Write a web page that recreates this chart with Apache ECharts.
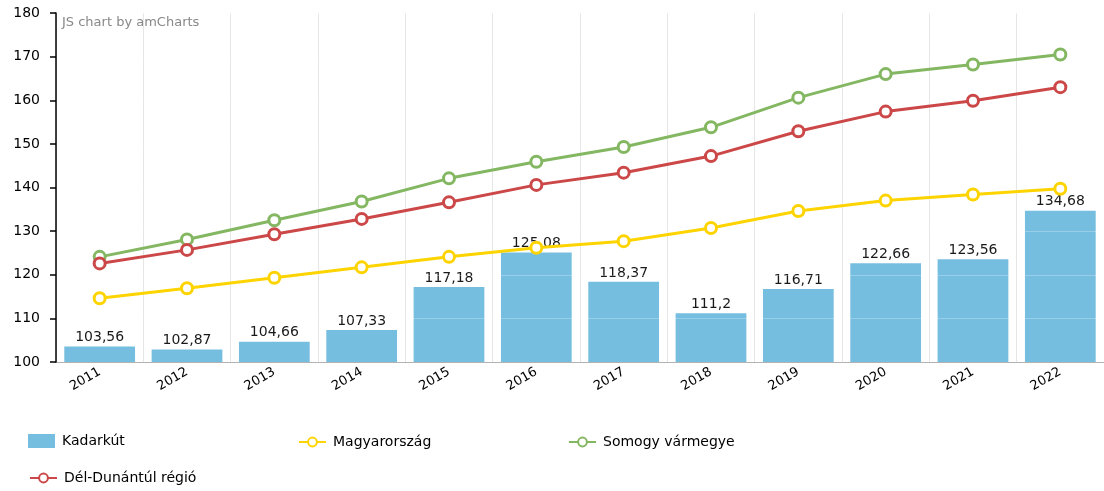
<!DOCTYPE html>
<html>
<head>
<meta charset="utf-8">
<title>Kadarkút</title>
<script src="https://cdn.jsdelivr.net/npm/echarts@6/dist/echarts.min.js"></script>
<style>
  html, body { margin: 0; padding: 0; background: #fff; }
  #chart { width: 1104px; height: 491px; }
</style>
</head>
<body>
<div id="chart"></div>
<script>
// data
var years = ['2011', '2012', '2013', '2014', '2015', '2016', '2017', '2018', '2019', '2020', '2021', '2022'];
var kadarkut = [103.56, 102.87, 104.66, 107.33, 117.18, 125.08, 118.37, 111.2, 116.71, 122.66, 123.56, 134.68];
var magyarorszag = [114.6, 116.9, 119.3, 121.7, 124.1, 126.2, 127.7, 130.7, 134.6, 137.0, 138.4, 139.7];
var somogy = [124.1, 128.1, 132.5, 136.8, 142.1, 145.9, 149.3, 153.8, 160.6, 166.0, 168.2, 170.5];
var delDunantul = [122.6, 125.7, 129.3, 132.8, 136.6, 140.6, 143.4, 147.2, 152.9, 157.4, 159.9, 163.0];
var yMin = 100, yMax = 180, yStep = 10;

var font = '"DejaVu Sans", Verdana, sans-serif';

var myChart = echarts.init(document.getElementById('chart'));

function lineSeries(name, data, color) {
	return {
		name: name,
		type: 'line',
		data: data,
		z: 4,
		symbol: 'circle',
		symbolSize: 11,
		lineStyle: { color: color, width: 3 },
		itemStyle: { color: '#fff', borderColor: color, borderWidth: 3 },
		emphasis: { disabled: true }
	};
}

function legendAt(name, left, top, w, h, icon) {
	var l = {
		data: [name],
		left: left,
		top: top,
		padding: 0,
		itemWidth: w,
		itemHeight: h,
		itemGap: 0,
		selectedMode: false,
		textStyle: { fontFamily: font, fontSize: 14, color: '#000', padding: [0, 0, 0, 2] }
	};
	if (icon) l.icon = icon;
	return l;
}

myChart.setOption({
	animation: false,
	grid: { left: 56, right: -4, top: 13, bottom: 129, containLabel: false },
	graphic: [{
		type: 'text',
		left: 62,
		top: 16,
		style: { text: 'JS chart by amCharts', fill: '#888', font: '13px ' + font }
	}],
	legend: [
		legendAt('Kadarkút', 28, 434, 27, 14, 'rect'),
		legendAt('Magyarország', 298, 435, 27, 11),
		legendAt('Somogy vármegye', 568, 435, 27, 11),
		legendAt('Dél-Dunántúl régió', 29, 471, 27, 11)
	],
	xAxis: {
		type: 'category',
		data: years,
		boundaryGap: true,
		axisLine: { lineStyle: { color: '#999', width: 1 } },
		axisTick: { alignWithLabel: true, length: 6, lineStyle: { color: '#999' } },
		axisLabel: { rotate: 30, margin: 9, fontFamily: font, fontSize: 13, color: '#000' },
		splitLine: { show: true, lineStyle: { color: '#e6e6e6', width: 1 } }
	},
	yAxis: {
		type: 'value',
		min: yMin,
		max: yMax,
		interval: yStep,
		z: 3,
		axisLine: { show: true, lineStyle: { color: '#000', width: 1.5 } },
		axisTick: { show: true, length: 6, lineStyle: { color: '#000', width: 1.5 } },
		axisLabel: { margin: 16, fontFamily: font, fontSize: 14, color: '#000' },
		splitLine: { show: true, lineStyle: { color: 'rgba(255,255,255,0.25)', width: 1 } }
	},
	series: [
		{
			name: 'Kadarkút',
			type: 'bar',
			data: kadarkut,
			z: 2,
			barCategoryGap: '19%',
			itemStyle: { color: '#67b7dc', opacity: 0.9 },
			emphasis: { disabled: true },
			label: {
				show: true,
				position: 'top',
				distance: 2,
				fontFamily: font,
				fontSize: 14,
				color: '#000',
				formatter: function (p) { return String(p.value).replace('.', ','); }
			}
		},
		lineSeries('Magyarország', magyarorszag, '#fdd400'),
		lineSeries('Somogy vármegye', somogy, '#84b761'),
		lineSeries('Dél-Dunántúl régió', delDunantul, '#cc4748')
	]
});
</script>
</body>
</html>
